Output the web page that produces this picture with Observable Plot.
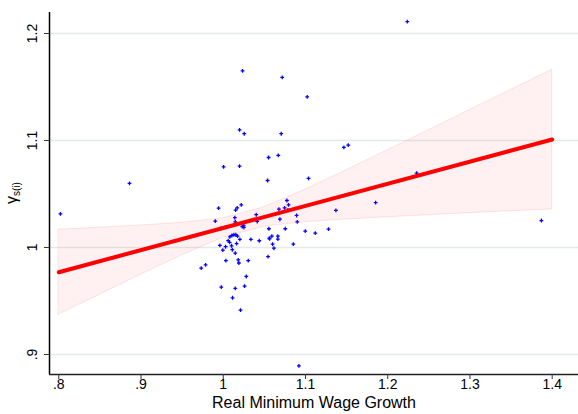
<!DOCTYPE html>
<html>
<head>
<meta charset="utf-8">
<script src="https://cdn.jsdelivr.net/npm/d3@7"></script>
<script src="https://cdn.jsdelivr.net/npm/@observablehq/plot@0.6"></script>
<style>
  body { margin: 0; background: #fff; }
  svg { display: block; }
</style>
</head>
<body>
<div id="chart"></div>
<script>
// Real minimum wage growth (x) and estimated gamma_s(i) (y), one entry per unit
const wageGrowth = [
  0.802, 0.886, 1.2238, 1.1467, 1.152, 1.2352, 1.1853, 1.137, 1.3869,
  1.0235, 1.0717, 1.1021, 1.0198, 1.0255, 1.0705, 1.0551, 1.0669, 1.0004, 1.0198, 1.0539, 1.1037,
  0.9732, 0.9785, 1.0032, 1.0182, 1.019, 1.0304, 1.0545, 1.028, 0.9976, 1.0146, 1.0259, 1.0113, 1.021, 1.092,
  0.9943, 1.015, 1.017, 1.0219, 1.0401, 1.0141, 1.0774, 1.0746, 1.0794, 1.0677, 1.0786, 1.0892, 1.0689,
  0.9903, 1.0146, 1.0413, 0.9971, 1.0028, 1.0231, 1.0251, 1.0247, 1.0555, 1.0105, 1.0129, 1.0153, 1.0174,
  1.008, 1.0202, 1.0336, 1.0438, 1.056, 1.006, 1.0077, 1.0028, 0.9995, 1.011, 1.0101, 1.0146, 0.9959, 1.0162,
  1.09, 1.0754, 1.0997, 1.1119, 1.128, 1.0591, 1.0664, 1.0563, 1.0664, 1.06, 1.0852, 1.0616
];
const gamma = [
  1.0315, 1.060, 1.211, 1.0935, 1.0956, 1.0694, 1.042, 1.0346, 1.0252,
  1.1651, 1.1589, 1.1408, 1.110, 1.1063, 1.1063, 1.0841, 1.086, 1.0754, 1.076, 1.0626, 1.0645,
  0.9807, 0.9838, 0.9877, 0.9885, 0.9855, 0.9877, 0.9914, 0.9729, 0.9629, 0.9617, 0.9638, 0.953, 0.9414, 0.8894,
  1.0367, 1.0349, 1.0371, 1.0399, 1.0306, 1.0278, 1.0439, 1.0371, 1.0399, 1.0358, 1.0352, 1.0299, 1.0264,
  1.0246, 1.024, 1.0243, 1.0178, 1.019, 1.0196, 1.0187, 1.0206, 1.0175, 1.0112, 1.0119, 1.0119, 1.0106,
  1.010, 1.0075, 1.0075, 1.0063, 1.0087, 1.0065, 1.0047, 1.0007, 0.9975, 0.9979, 1.0016, 0.9947, 1.0019, 1.0037,
  1.024, 1.0175, 1.0152, 1.0134, 1.0171, 1.0106, 1.0106, 1.0081, 1.0078, 1.0031, 1.0031, 0.9993
];

// Fitted line end points
const fitX = [0.8, 1.4];
const fitY = [0.9769, 1.1009];

// 95% confidence band of the fit
const bandX    = [0.8, 0.85, 0.9, 0.95, 1.0, 1.05, 1.1, 1.15, 1.2, 1.25, 1.3, 1.35, 1.4];
const bandLow  = [0.9372, 0.9559, 0.9746, 0.9927, 1.0091, 1.0195, 1.0237, 1.0262, 1.0283, 1.0302, 1.0321, 1.0339, 1.0356];
const bandHigh = [1.0166, 1.0185, 1.0206, 1.0231, 1.0273, 1.0377, 1.0541, 1.0722, 1.0909, 1.1096, 1.1285, 1.1473, 1.1662];

// Axis ticks
const xTicks = [0.8, 0.9, 1.0, 1.1, 1.2, 1.3, 1.4];
const yTicks = [0.9, 1.0, 1.1, 1.2];

const points = wageGrowth.map((x, i) => ({x, y: gamma[i]}));
const band = bandX.map((x, i) => ({x, lo: bandLow[i], hi: bandHigh[i]}));
const fit = fitX.map((x, i) => ({x, y: fitY[i]}));

// Stata-style numbers: ".8", "1", "1.1"
const fmt = d => d3.format("~g")(d).replace(/^0\./, ".");

const xDomain = [0.7887, 1.432];
const yDomain = [0.8813, 1.2196];

const chart = Plot.plot({
  width: 578,
  height: 414,
  marginLeft: 49,
  marginRight: 0,
  marginTop: 12,
  marginBottom: 40,
  style: {fontFamily: "'Liberation Sans', Arial, sans-serif", fontSize: "14px", background: "#fff", color: "#000"},
  x: {domain: xDomain},
  y: {domain: yDomain},
  marks: [
    Plot.gridY(yTicks, {stroke: "#e4ebeb", strokeOpacity: 1, strokeWidth: 1.5}),
    Plot.dot(points, {x: "x", y: "y", symbol: "cross", r: 1.6, fill: "#0000ff", stroke: "none"}),
    Plot.areaY(band, {x: "x", y1: "lo", y2: "hi", fill: "red", fillOpacity: 0.055, stroke: "red", strokeOpacity: 0.1, strokeWidth: 1}),
    Plot.line(fit, {x: "x", y: "y", stroke: "#ff0000", strokeWidth: 4, strokeLinecap: "round"}),
    Plot.ruleX([xDomain[0]], {stroke: "#000", strokeWidth: 1.5}),
    Plot.ruleY([yDomain[0]], {stroke: "#222", strokeWidth: 1.5}),
    Plot.axisX(xTicks, {tickSize: 5, tickPadding: 0, tickFormat: fmt, label: null, stroke: "#333", fontSize: 14}),
    Plot.axisY(yTicks, {tickSize: 5, tickPadding: 8, tickRotate: -90, tickFormat: fmt, label: null, stroke: "#333", fontSize: 14}),
    Plot.text(["Real Minimum Wage Growth"], {frameAnchor: "bottom", dy: 33, fontSize: 16, fill: "#000"})
  ]
});

document.getElementById("chart").appendChild(chart);

// Y axis title: gamma with subscript s(i)
const svg = d3.select(chart);
const ylab = svg.append("text")
  .attr("transform", "translate(17,193) rotate(-90)")
  .attr("text-anchor", "middle")
  .attr("font-family", "'Liberation Sans', Arial, sans-serif")
  .attr("font-size", 16)
  .attr("fill", "#000");
ylab.append("tspan").text("γ");
ylab.append("tspan").attr("font-size", 10).attr("dy", 3).text("s(i)");
</script>
</body>
</html>
